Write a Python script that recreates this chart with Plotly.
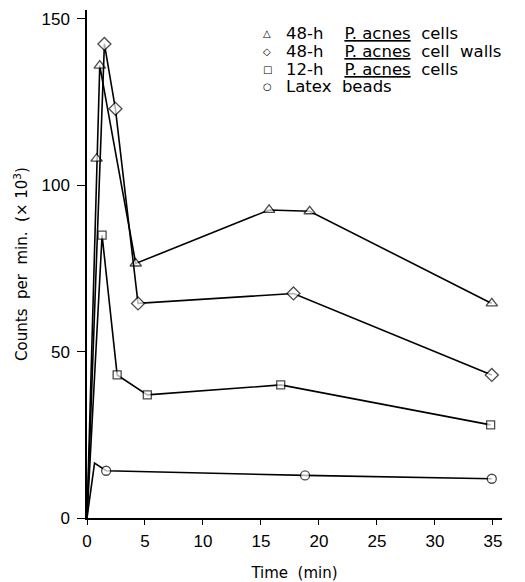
import plotly.graph_objects as go

# Data
t_cells48 = [0, 0.83, 1.1, 4.2, 15.7, 19.2, 34.9]
v_cells48 = [0, 108, 136, 76.5, 92.6, 92.2, 64.5]

t_walls48 = [0, 1.5, 2.45, 4.4, 17.8, 34.9]
v_walls48 = [0, 142.5, 123, 64.5, 67.5, 43]

t_cells12 = [0, 1.3, 2.6, 5.2, 16.7, 34.8]
v_cells12 = [0, 85, 43, 37, 40, 28]

t_latex = [0, 0.65, 1.65, 18.8, 34.9]
v_latex = [0, 16.5, 14.2, 12.8, 11.8]

x_ticks = [0, 5, 10, 15, 20, 25, 30, 35]
y_ticks = [0, 50, 100, 150]

SP = "&nbsp;"
names = [
    "48-h" + SP * 4 + "<u>P." + SP + "acnes</u>" + SP * 2 + "cells",
    "48-h" + SP * 4 + "<u>P." + SP + "acnes</u>" + SP * 2 + "cell" + SP * 2 + "walls",
    "12-h" + SP * 4 + "<u>P." + SP + "acnes</u>" + SP * 2 + "cells",
    "Latex" + SP * 2 + "beads",
]
legend_glyphs = ["△", "◇", "□", "○"]

TEXT_FONT = "DejaVu Sans, sans-serif"
TICK_FONT = "Liberation Sans, Arial, sans-serif"

series = [
    (t_cells48, v_cells48, "triangle-up", 10),
    (t_walls48, v_walls48, "diamond", 10),
    (t_cells12, v_cells12, "square", 8),
    (t_latex, v_latex, "circle", 9),
]

fig = go.Figure()
for (tx, vy, sym, sz) in series:
    sizes = [0 if v == 0 else sz for v in vy]
    if sym == "circle":
        sizes[1] = 0  # peak drawn without a marker
    fig.add_trace(go.Scatter(
        x=tx, y=vy, mode="lines+markers", showlegend=False,
        line=dict(color="black", width=1.6),
        marker=dict(symbol=sym, size=sizes, color="white",
                    line=dict(color="black", width=1.3)),
        cliponaxis=False,
    ))

# Legend drawn as text annotations (plot area spans y 10..518 px, x 87..502 px)
row_px = [33, 51.5, 69.5, 87]
for i, (g, nm) in enumerate(zip(legend_glyphs, names)):
    yp = (518 - row_px[i]) / 508
    fig.add_annotation(x=(267 - 87) / 415, y=yp, xref="paper", yref="paper",
                       text=g, showarrow=False, xanchor="center", yanchor="middle",
                       font=dict(family="DejaVu Sans", size=10, color="black"))
    fig.add_annotation(x=(284 - 87) / 415, y=yp, xref="paper", yref="paper",
                       text=nm, showarrow=False, xanchor="left", yanchor="middle",
                       font=dict(family=TEXT_FONT, size=16.5, color="black"))

fig.update_layout(
    width=525, height=582,
    margin=dict(l=87, r=23, t=10, b=64),
    paper_bgcolor="white", plot_bgcolor="white",
    font=dict(family=TEXT_FONT, color="black", size=15),
    showlegend=False,
)
fig.update_xaxes(
    range=[0, 35.78], tickvals=x_ticks, automargin=False,
    showline=True, linecolor="black", linewidth=1.5,
    ticks="outside", ticklen=5, tickwidth=1.2, tickcolor="black",
    showgrid=False, zeroline=False, ticklabelstandoff=2,
    tickfont=dict(family=TICK_FONT, size=17),
    title=dict(text="Time" + SP * 2 + "(min)", font=dict(family=TEXT_FONT, size=15), standoff=18),
)
fig.update_yaxes(
    range=[0, 152.7], tickvals=y_ticks, automargin=False,
    showline=True, linecolor="black", linewidth=1.5,
    ticks="outside", ticklen=8, tickwidth=1.2, tickcolor="black",
    showgrid=False, zeroline=False, ticklabelstandoff=4,
    tickfont=dict(family=TICK_FONT, size=17),
    title=dict(text="Counts" + SP * 2 + "per" + SP * 2 + "min." + SP * 2 + "(×" + SP + "10<sup>3</sup>)",
               font=dict(family=TEXT_FONT, size=15), standoff=10),
)

fig.write_html("out.html", config={"displayModeBar": False},
               post_script="document.body.style.margin='0';")
